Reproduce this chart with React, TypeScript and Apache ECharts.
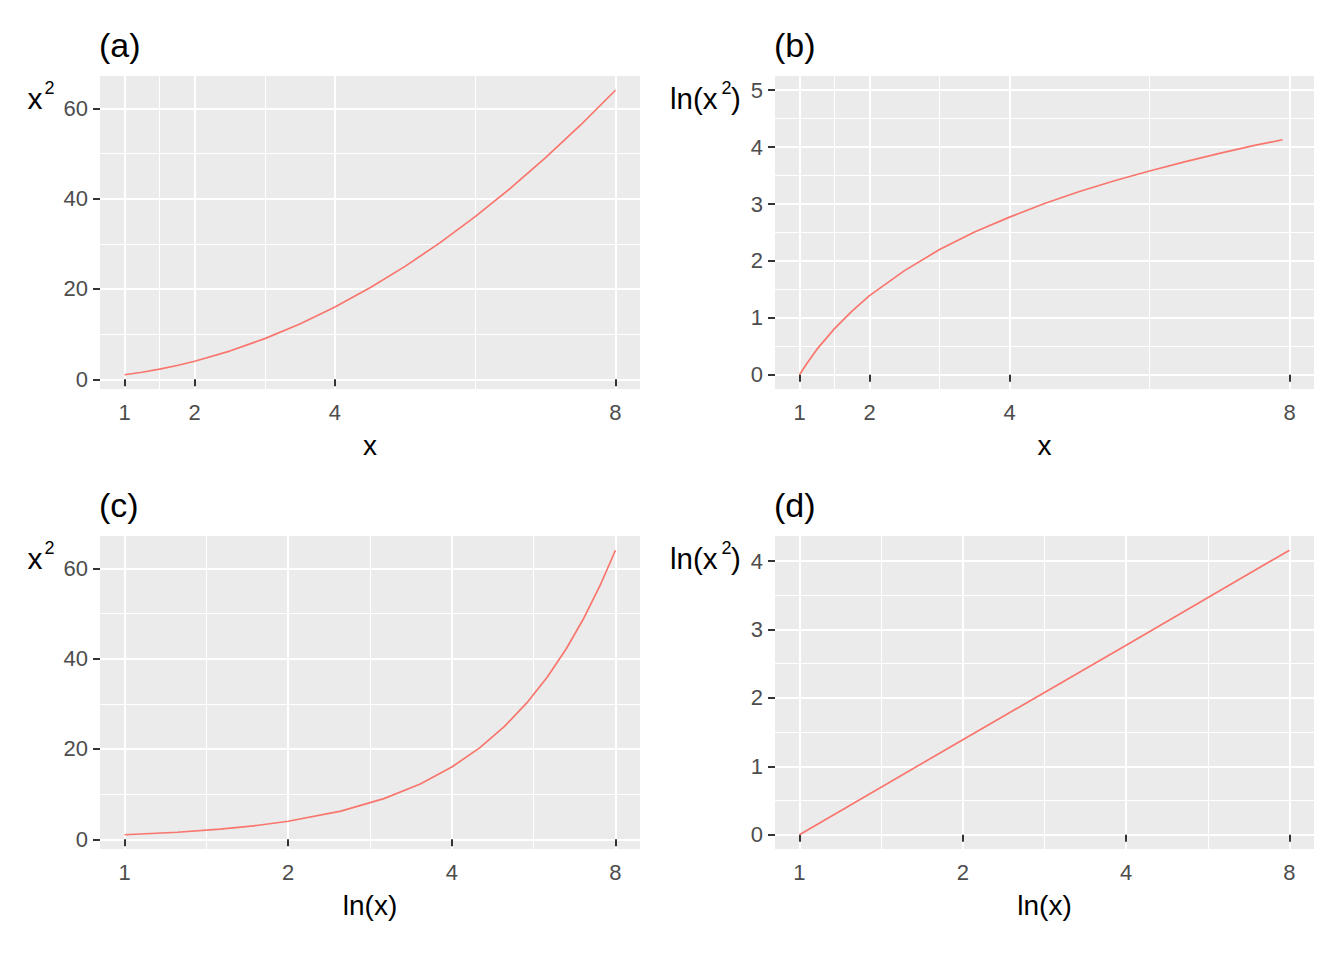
import { useEffect, useRef } from 'react';
import * as echarts from 'echarts';

const FONT = '"Liberation Sans", Arial, sans-serif';
const LINE = '#F8766D';

// y = x^2, panels (a) and (c)
const sqX = [1, 1.25, 1.5, 1.75, 2, 2.5, 3, 3.5, 4, 4.5, 5, 5.5, 6, 6.5, 7, 7.5, 8];
const sqY = [1, 1.56, 2.25, 3.06, 4, 6.25, 9, 12.25, 16, 20.25, 25, 30.25, 36, 42.25, 49, 56.25, 64];

// y = ln(x^2), panel (b) - the curve stops just short of 8
const lnX = [1, 1.1, 1.25, 1.5, 1.75, 2, 2.5, 3, 3.5, 4, 4.5, 5, 5.5, 6, 6.5, 7, 7.5, 7.9];
const lnY = [0, 0.19, 0.45, 0.81, 1.12, 1.39, 1.83, 2.2, 2.51, 2.77, 3.01, 3.22, 3.41, 3.58, 3.74, 3.89, 4.03, 4.13];

// panel (d), straight line on the log axis
const lnLogX = [1, 2, 4, 8];
const lnLogY = [0, 1.39, 2.77, 4.16];

const xTicks = [1, 2, 4, 8];
const xMinorLin = [1.5, 3, 6];
const xMinorLog = [1.414, 2.828, 5.657];
const sqTicks = [0, 20, 40, 60];
const sqMinor = [10, 30, 50];
const lnTicksB = [0, 1, 2, 3, 4, 5];
const lnMinorB = [0.5, 1.5, 2.5, 3.5, 4.5];
const lnTicksD = [0, 1, 2, 3, 4];
const lnMinorD = [0.5, 1.5, 2.5, 3.5];

type Panel = {
  tag: string;
  left: number;
  top: number;
  width: number;
  log: boolean;
  yMin: number;
  yMax: number;
  yTicks: number[];
  yMinor: number[];
  xs: number[];
  ys: number[];
  yTitle: 'sq' | 'ln';
  xTitle: string;
};

const H = 313;

const panels: Panel[] = [
  { tag: '(a)', left: 100, top: 76, width: 540, log: false, yMin: -2.15, yMax: 67.15, yTicks: sqTicks, yMinor: sqMinor, xs: sqX, ys: sqY, yTitle: 'sq', xTitle: 'x' },
  { tag: '(b)', left: 775, top: 76, width: 539, log: false, yMin: -0.25, yMax: 5.25, yTicks: lnTicksB, yMinor: lnMinorB, xs: lnX, ys: lnY, yTitle: 'ln', xTitle: 'x' },
  { tag: '(c)', left: 100, top: 536, width: 540, log: true, yMin: -2.15, yMax: 67.15, yTicks: sqTicks, yMinor: sqMinor, xs: sqX, ys: sqY, yTitle: 'sq', xTitle: 'ln(x)' },
  { tag: '(d)', left: 775, top: 536, width: 539, log: true, yMin: -0.208, yMax: 4.367, yTicks: lnTicksD, yMinor: lnMinorD, xs: lnLogX, ys: lnLogY, yTitle: 'ln', xTitle: 'ln(x)' },
];

const txt = (text: string, x: number, y: number, size: number, align = 'left', fill = '#000') => ({
  type: 'text',
  x,
  y,
  silent: true,
  style: { text, fontSize: size, fontFamily: FONT, fill, align, verticalAlign: 'middle' },
});

export default function App() {
  const ref = useRef<HTMLDivElement>(null);

  useEffect(() => {
    const dom = ref.current;
    if (!dom) return;
    const chart = echarts.init(dom, null, { renderer: 'svg' });

    const grid: any[] = [];
    const xAxis: any[] = [];
    const yAxis: any[] = [];
    const series: any[] = [];
    const graphic: any[] = [];

    panels.forEach((p, i) => {
      grid.push({
        left: p.left,
        top: p.top,
        width: p.width,
        height: H,
        show: true,
        backgroundColor: '#EBEBEB',
        borderWidth: 0,
      });

      const xType = p.log ? 'log' : 'value';
      const xMin = p.log ? 0.9013 : 0.65;
      const xMax = p.log ? 8.8766 : 8.35;
      const xBase = { type: xType, gridIndex: i, min: xMin, max: xMax, axisLine: { show: false }, ...(p.log ? { logBase: 2 } : {}) };
      const yBase = { type: 'value', gridIndex: i, min: p.yMin, max: p.yMax, axisLine: { show: false } };

      xAxis.push({
        ...xBase,
        axisTick: { show: true, customValues: xTicks, length: 7, lineStyle: { color: '#333333', width: 2 } },
        axisLabel: { customValues: xTicks, color: '#4D4D4D', fontSize: 22, fontFamily: FONT, margin: 12 },
        splitLine: { show: true, lineStyle: { color: '#FFFFFF', width: 2 } },
      });
      xAxis.push({
        ...xBase,
        axisTick: { show: false, customValues: p.log ? xMinorLog : xMinorLin },
        axisLabel: { show: false, customValues: p.log ? xMinorLog : xMinorLin },
        splitLine: { show: true, lineStyle: { color: '#FFFFFF', width: 1 } },
      });
      yAxis.push({
        ...yBase,
        axisTick: { show: true, customValues: p.yTicks, length: 7, lineStyle: { color: '#333333', width: 2 } },
        axisLabel: { customValues: p.yTicks, color: '#4D4D4D', fontSize: 22, fontFamily: FONT, margin: 12 },
        splitLine: { show: true, lineStyle: { color: '#FFFFFF', width: 2 } },
      });
      yAxis.push({
        ...yBase,
        axisTick: { show: false, customValues: p.yMinor },
        axisLabel: { show: false, customValues: p.yMinor },
        splitLine: { show: true, lineStyle: { color: '#FFFFFF', width: 1 } },
      });

      series.push({
        type: 'line',
        xAxisIndex: i * 2,
        yAxisIndex: i * 2,
        data: p.xs.map((x, k) => [x, p.ys[k]]),
        showSymbol: false,
        silent: true,
        lineStyle: { color: LINE, width: 1.7 },
      });

      // panel tag
      graphic.push(txt(p.tag, p.left - 1, p.top - 31, 34));
      // y title
      if (p.yTitle === 'sq') {
        graphic.push(txt('x', p.left - 72.5, p.top + 22, 30));
        graphic.push(txt('2', p.left - 55.5, p.top + 12.4, 18));
      } else {
        graphic.push(txt('ln(x', p.left - 105, p.top + 22, 29.5));
        graphic.push(txt('2', p.left - 53.5, p.top + 12.4, 18));
        graphic.push(txt(')', p.left - 44, p.top + 22, 29.5));
      }
      // x title
      graphic.push(txt(p.xTitle, p.left + p.width / 2, p.top + H + 56, 28, 'center'));
    });

    chart.setOption({
      animation: false,
      grid,
      xAxis,
      yAxis,
      series,
      graphic: { elements: graphic },
    } as echarts.EChartsOption);

    return () => {
      chart.dispose();
    };
  }, []);

  return <div ref={ref} style={{ position: 'absolute', left: 0, top: 0, width: 1344, height: 960, background: '#fff' }} />;
}
